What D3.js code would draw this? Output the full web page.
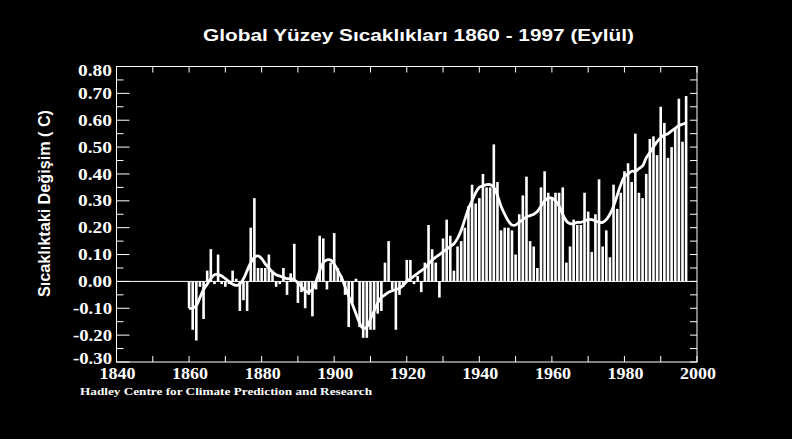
<!DOCTYPE html>
<html><head><meta charset="utf-8">
<script src="https://cdn.jsdelivr.net/npm/d3@7"></script>
<style>
html,body{margin:0;padding:0;background:#000;}
svg{display:block;}
</style></head>
<body>
<script>
// ---------- data ----------
const firstYear = 1860;
const anomalies = [
 -0.10,-0.18,-0.22,-0.02,-0.14, 0.04, 0.12,-0.01, 0.10,-0.01,   // 1860-1869
 -0.02,-0.01, 0.04, 0.01,-0.11,-0.07,-0.11, 0.20, 0.31, 0.05,   // 1870-1879
  0.05, 0.05, 0.10, 0.04,-0.02,-0.01, 0.05,-0.05, 0.03, 0.14,   // 1880-1889
 -0.08,-0.04,-0.10,-0.05,-0.13,-0.03, 0.17, 0.16,-0.03, 0.07,   // 1890-1899
  0.18, 0.05, 0.02,-0.05,-0.17,-0.08, 0.01,-0.17,-0.21,-0.21,   // 1900-1909
 -0.18,-0.18,-0.12,-0.11, 0.07, 0.15,-0.03,-0.18,-0.05,-0.02,   // 1910-1919
  0.08, 0.08,-0.01, 0.02,-0.04, 0.07, 0.21, 0.12, 0.07,-0.06,   // 1920-1929
  0.16, 0.23, 0.17, 0.04, 0.13, 0.15, 0.20, 0.28, 0.36, 0.29,   // 1930-1939
  0.31, 0.40, 0.35, 0.35, 0.51, 0.37, 0.19, 0.20, 0.20, 0.19,   // 1940-1949
  0.10, 0.25, 0.32, 0.39, 0.15, 0.13, 0.05, 0.35, 0.41, 0.33,   // 1950-1959
  0.31, 0.33, 0.33, 0.35, 0.07, 0.13, 0.23, 0.21, 0.21, 0.33,   // 1960-1969
  0.26, 0.11, 0.25, 0.38, 0.13, 0.19, 0.09, 0.36, 0.27, 0.33,   // 1970-1979
  0.41, 0.44, 0.37, 0.55, 0.33, 0.31, 0.40, 0.53, 0.54, 0.47,   // 1980-1989
  0.65, 0.59, 0.46, 0.50, 0.57, 0.68, 0.52, 0.69                // 1990-1997
];
const smoothed = [
 -0.10,-0.10,-0.09,-0.06,-0.03,-0.01, 0.01, 0.025,0.025,0.02,
  0.01, 0.00,-0.01,-0.015,-0.01,0.01, 0.04, 0.07, 0.09, 0.095,
  0.085,0.065,0.05, 0.035,0.025,0.02, 0.015,0.01, 0.01, 0.005,
 -0.005,-0.02,-0.035,-0.04,-0.03,0.00, 0.04, 0.07, 0.08, 0.08,
  0.065,0.04, 0.015,-0.02,-0.055,-0.085,-0.12,-0.155,-0.175,-0.17,
 -0.14,-0.11,-0.08,-0.06,-0.05,-0.04,-0.035,-0.03,-0.025,-0.015,
  0.00, 0.01, 0.02, 0.03, 0.04, 0.05, 0.065,0.08, 0.09, 0.10,
  0.11, 0.12, 0.13, 0.14, 0.16, 0.19, 0.23, 0.27, 0.30, 0.33,
  0.35, 0.355,0.36, 0.36, 0.35, 0.32, 0.28, 0.25, 0.225,0.21,
  0.21, 0.22, 0.23, 0.24, 0.245,0.25, 0.26, 0.28, 0.30, 0.31,
  0.31, 0.30, 0.28, 0.25, 0.225,0.215,0.215,0.22, 0.22, 0.225,
  0.23, 0.23, 0.225,0.22, 0.22, 0.23, 0.25, 0.28, 0.32, 0.36,
  0.39, 0.40, 0.41, 0.41, 0.42, 0.43, 0.46, 0.48, 0.50, 0.52,
  0.535,0.545,0.55, 0.56, 0.57, 0.58, 0.585,0.59
];
const xTickLabels = [1840, 1860, 1880, 1900, 1920, 1940, 1960, 1980, 2000];
const yTickLabels = [0.8, 0.7, 0.6, 0.5, 0.4, 0.3, 0.2, 0.1, 0.0, -0.1, -0.2, -0.3];
const titleText = "Global Yüzey Sıcaklıkları 1860 - 1997 (Eylül)";
const yTitleText = "Sıcaklıktaki Değişim ( C)";
const creditText = "Hadley Centre for Climate Prediction and Research";

// ---------- layout ----------
const W = 792, H = 439;
const svg = d3.select("body").append("svg").attr("width", W).attr("height", H)
  .style("background", "#000");

const x = d3.scaleLinear().domain([1840, 2000]).range([116.5, 697]);
const y = d3.scaleLinear().domain([-0.3, 0.8]).range([362, 66.5]);
const barW = 2.6;

const bars = anomalies.map((v, i) => ({year: firstYear + i, v}));
const curve = smoothed.map((v, i) => ({year: firstYear + i, v}));

const serif = "'Liberation Serif','Times New Roman',serif";

// zero line
svg.append("line")
  .attr("x1", x(1840)).attr("x2", x(2000))
  .attr("y1", y(0)).attr("y2", y(0))
  .attr("stroke", "#fff").attr("stroke-width", 1);

// bars
svg.append("g").selectAll("rect").data(bars).join("rect")
  .attr("x", d => x(d.year) - barW / 2)
  .attr("width", barW)
  .attr("y", d => Math.min(y(d.v), y(0)))
  .attr("height", d => Math.abs(y(d.v) - y(0)))
  .attr("fill", "#fff");

// smoothed curve
svg.append("path").datum(curve)
  .attr("fill", "none").attr("stroke", "#fff").attr("stroke-width", 2.8)
  .attr("stroke-linejoin", "round")
  .attr("d", d3.line().x(d => x(d.year)).y(d => y(d.v)).curve(d3.curveCatmullRom.alpha(0.5)));

// frame
svg.append("rect")
  .attr("x", x(1840)).attr("y", y(0.8))
  .attr("width", x(2000) - x(1840)).attr("height", y(-0.3) - y(0.8))
  .attr("fill", "none").attr("stroke", "#fff").attr("stroke-width", 1);

// y axis ticks
const yMajor = yTickLabels.slice();
const yMinor = yMajor.slice(0, -1).map(v => v - 0.05);
const gL = svg.append("g");
yMajor.forEach(v => gL.append("line").attr("x1", x(1840)).attr("x2", x(1840) + 13)
  .attr("y1", y(v)).attr("y2", y(v)).attr("stroke", "#fff"));
yMinor.forEach(v => gL.append("line").attr("x1", x(1840)).attr("x2", x(1840) + 7)
  .attr("y1", y(v)).attr("y2", y(v)).attr("stroke", "#fff"));
yMajor.concat(yMinor).forEach(v => gL.append("line").attr("x1", x(2000)).attr("x2", x(2000) - 7)
  .attr("y1", y(v)).attr("y2", y(v)).attr("stroke", "#fff"));

// y labels
yTickLabels.forEach((v, i) => {
  let yy = y(v);
  if (i === 0) yy += 4;
  if (i === yTickLabels.length - 1) yy -= 4;
  const s = v.toFixed(2);
  svg.append("text").attr("x", 112).attr("y", yy).attr("dy", "0.35em")
    .attr("text-anchor", "end").attr("fill", "#fff")
    .attr("textLength", s.startsWith("-") ? 39 : 34).attr("lengthAdjust", "spacingAndGlyphs")
    .style("font-family", serif).style("font-weight", "bold").style("font-size", "16px")
    .text(s);
});

// x ticks (every 10 years) bottom & top
const xTicks = x.ticks(16);
xTicks.forEach(t => {
  svg.append("line").attr("x1", x(t)).attr("x2", x(t)).attr("y1", y(-0.3)).attr("y2", y(-0.3) - 6).attr("stroke", "#fff");
  svg.append("line").attr("x1", x(t)).attr("x2", x(t)).attr("y1", y(0.8)).attr("y2", y(0.8) + 6).attr("stroke", "#fff");
});
xTickLabels.forEach(t => {
  svg.append("text").attr("x", x(t) + 1).attr("y", 378.5)
    .attr("text-anchor", "middle").attr("fill", "#fff")
    .attr("textLength", 36).attr("lengthAdjust", "spacingAndGlyphs")
    .style("font-family", serif).style("font-weight", "bold").style("font-size", "16px")
    .text(t);
});

// title
svg.append("text").attr("x", 418.5).attr("y", 41).attr("text-anchor", "middle")
  .attr("fill", "#fff")
  .attr("textLength", 431).attr("lengthAdjust", "spacingAndGlyphs")
  .style("font-family", "'Liberation Sans',Arial,sans-serif").style("font-weight", "bold").style("font-size", "17px")
  .text(titleText);

// y title
svg.append("text").attr("transform", "translate(50,203.5) rotate(-90)")
  .attr("text-anchor", "middle").attr("fill", "#fff")
  .attr("textLength", 187).attr("lengthAdjust", "spacingAndGlyphs")
  .style("font-family", "'Liberation Sans Narrow','Arial Narrow','Liberation Sans',sans-serif")
  .style("font-weight", "bold").style("font-size", "17px")
  .text(yTitleText);

// credit
svg.append("text").attr("x", 80).attr("y", 394.5).attr("fill", "#fff")
  .attr("textLength", 292).attr("lengthAdjust", "spacingAndGlyphs")
  .style("font-family", serif).style("font-weight", "bold").style("font-size", "10.5px")
  .text(creditText);
</script>
</body></html>
